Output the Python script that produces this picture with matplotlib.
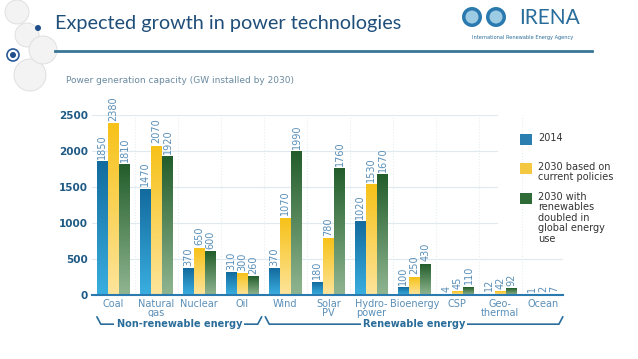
import numpy as np
import matplotlib.pyplot as plt
from matplotlib.colors import LinearSegmentedColormap
from matplotlib.patches import Ellipse, Rectangle

categories = ['Coal', 'Natural\ngas', 'Nuclear', 'Oil', 'Wind', 'Solar\nPV',
              'Hydro-\npower', 'Bioenergy', 'CSP', 'Geo-\nthermal', 'Ocean']
v2014 = [1850, 1470, 370, 310, 370, 180, 1020, 100, 4, 12, 1]
v2030_current = [2380, 2070, 650, 300, 1070, 780, 1530, 250, 45, 42, 2]
v2030_doubled = [1810, 1920, 600, 260, 1990, 1760, 1670, 430, 110, 92, 7]
series_names = ['2014', '2030 based on\ncurrent policies',
                '2030 with\nrenewables\ndoubled in\nglobal energy\nuse']
yticks = [0, 500, 1000, 1500, 2000, 2500]

# top / bottom colours for the gradients
grad = [('#136b9e', '#3aaee0'), ('#f7c21a', '#fde49a'), ('#245e2c', '#8fb590')]
legend_cols = ['#2b7fb0', '#f5c842', '#2e6b36']
label_col = '#5a8fb8'
dark_blue = '#1f5a85'

W, H = 638, 359
fig = plt.figure(figsize=(W / 100, H / 100), dpi=100)
ax = fig.add_axes([0.144, 0.178, 0.738, 0.501])

def circ(px, py, r, **kw):
    # round circle given in pixels (y from top)
    e = Ellipse((px / W, 1 - py / H), 2 * r / W, 2 * r / H, transform=fig.transFigure, **kw)
    fig.patches.append(e)

x = np.arange(len(categories))
w = 0.26
data = [v2014, v2030_current, v2030_doubled]
for i, vals in enumerate(data):
    xs = x + (i - 1) * w
    bars = ax.bar(xs, vals, w * 0.92, color=grad[i][0], zorder=2)
    cmap = LinearSegmentedColormap.from_list('g%d' % i, [grad[i][1], grad[i][0]])
    for b, v in zip(bars, vals):
        x0 = b.get_x()
        ax.imshow(np.linspace(0, 1, 50).reshape(-1, 1), cmap=cmap, origin='lower',
                  extent=[x0, x0 + b.get_width(), 0, v], aspect='auto', zorder=2.5)
        ax.text(b.get_x() + b.get_width() / 2, v + 40, str(v), rotation=90,
                ha='center', va='bottom', fontsize=7, color=label_col, clip_on=False)

ax.set_xlim(-0.5, 10.45)
ax.set_ylim(0, 2500)
ax.set_yticks(yticks)
ax.set_yticklabels([str(t) for t in yticks], fontsize=7.5, fontweight='bold', color=dark_blue)
ax.set_xticks(x)
ax.set_xticklabels(categories, fontsize=7, color=label_col, linespacing=0.85)
ax.tick_params(length=0, pad=3)
for t in yticks[1:]:
    xmax = 1.0 if t <= 500 else 0.86
    ax.axhline(t, xmax=xmax, color='#dfe9f0', lw=0.8, zorder=0)
for xv in x[:-1] + 0.5:
    ax.axvline(xv, color='#e6eef3', lw=0.8, ls=':', zorder=0)
for s in ['top', 'right', 'left']:
    ax.spines[s].set_visible(False)
ax.spines['bottom'].set_color('#2a7ab0')
ax.spines['bottom'].set_linewidth(1.5)

# legend, drawn by hand so the text lines up with the top of each square
leg_y = [134, 163, 193]
for name, col, py in zip(series_names, legend_cols, leg_y):
    fig.patches.append(Rectangle((520 / W, 1 - (py + 11) / H), 12 / W, 11 / H,
                                 transform=fig.transFigure, facecolor=col, edgecolor='none'))
    fig.text(538 / W, 1 - (py - 1) / H, name, fontsize=7, color='#333333', va='top',
             ha='left', linespacing=1.05)

# brackets
def bracket(x0, x1, y, text):
    col = '#2a6d9a'
    xm = (x0 + x1) / 2
    fig.lines.append(plt.Line2D([x0, x0 + 0.006, x1 - 0.006, x1], [y + 0.02, y, y, y + 0.02],
                                transform=fig.transFigure, color=col, lw=1.2))
    fig.text(xm, y, text, ha='center', va='center', fontsize=7, color=col, fontweight='bold',
             bbox=dict(facecolor='white', edgecolor='none', pad=1.5))

bracket(0.152, 0.410, 0.097, 'Non-renewable energy')
bracket(0.416, 0.882, 0.097, 'Renewable energy')

# header
fig.text(55 / W, 0.935, 'Expected growth in power technologies', fontsize=14.3,
         family='Lato', color='#1f4e79', va='center', ha='left')
fig.lines.append(plt.Line2D([55 / W, 592 / W], [1 - 51 / H] * 2, transform=fig.transFigure,
                            color='#3a7595', lw=2))
fig.text(0.103, 0.775, 'Power generation capacity (GW installed by 2030)', fontsize=6.5,
         color='#6a8aa0', va='center')

# logo
fig.text(519 / W, 1 - 18 / H, 'IRENA', fontsize=15, family='Lato', color='#2a6d9a',
         va='center', ha='left')
fig.text(472 / W, 1 - 38 / H, 'International Renewable Energy Agency', fontsize=3.6,
         color='#2a6d9a', va='center')
for cx in [472, 496]:
    circ(cx, 17, 10, facecolor='#2a7ab0', edgecolor='none')
    circ(cx, 17, 6.5, facecolor='#9ccbe3', edgecolor='none')

# decorative circles on the left
for cx, cy, r in [(17, 12, 12), (27, 35, 12), (30, 75, 16), (43, 50, 14)]:
    circ(cx, cy, r, facecolor='#f3f3f3', edgecolor='#dcdcdc', lw=0.6, zorder=0)
circ(38, 28, 3, facecolor='#1f4e8a', edgecolor='none')
circ(13, 55, 6, facecolor='white', edgecolor='#2a5a9a', lw=1.2)
circ(13, 55, 3, facecolor='#1f4e8a', edgecolor='none')

fig.savefig('out.png', dpi=100)
